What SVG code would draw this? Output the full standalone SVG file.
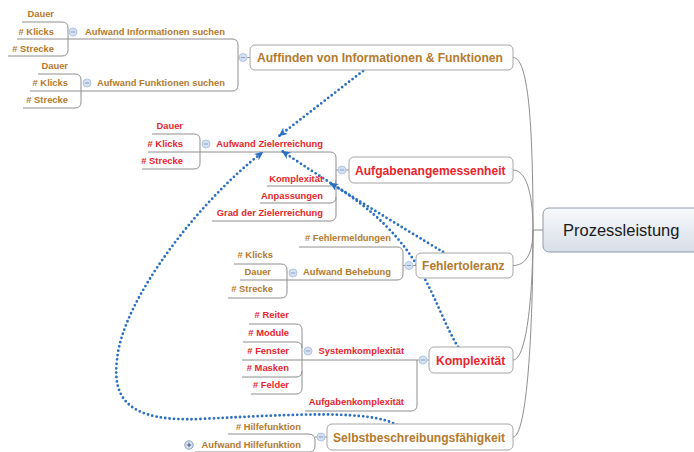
<svg xmlns="http://www.w3.org/2000/svg" width="694" height="452" viewBox="0 0 694 452">
  <defs>
    <linearGradient id="rootFill" x1="0" y1="0" x2="0" y2="1">
      <stop offset="0" stop-color="#f8f9fb"/>
      <stop offset="1" stop-color="#d8dee8"/>
    </linearGradient>
    <marker id="spear" viewBox="0 0 9 8" refX="8.5" refY="4" markerWidth="9" markerHeight="8" markerUnits="userSpaceOnUse" orient="auto">
      <path d="M0,0 L9,4 L0,8 L2.6,4 z" fill="#2a6fc2"/>
    </marker>
    <g id="fold">
      <circle r="4" fill="#d5e1f2" stroke="#a7bddb" stroke-width="0.8"/>
      <path d="M-2.2,0 H2.2" stroke="#8aa2c6" stroke-width="1"/>
    </g>
  </defs>
  <style>
    .tree { fill: none; stroke: #8e8e8e; stroke-width: 1; }
    .rel { fill: none; stroke: #2a6fc2; stroke-width: 2.8; stroke-linecap: round; stroke-dasharray: 0 4.4; }
    .box { fill: #ffffff; stroke: #a6a6a6; stroke-width: 1; }
    text { font-family: "Liberation Sans", Arial, sans-serif; font-weight: bold; }
    .main { font-size: 12.1px; }
    .sub { font-size: 9.4px; text-anchor: end; }
    .brown { fill: #b47a2e; }
    .red { fill: #e8262d; }
  </style>

  <rect width="694" height="452" fill="#ffffff"/>

  <!-- tree branches and relationship arrows -->
  <g id="connectors">
    <!-- root to main topics -->
    <path class="tree" d="M543,230 H533"/>
    <path class="tree" d="M513,57.5 C528,57.5 533,120 533,230"/>
    <path class="tree" d="M513,170 C525,170 533,190 533,230"/>
    <path class="tree" d="M513,265.5 C525,265.5 533,255 533,230"/>
    <path class="tree" d="M513,360 C526,360 533,300 533,230"/>
    <path class="tree" d="M513,437 C527,437 533,330 533,230"/>

    <!-- Auffinden von Informationen & Funktionen -->
    <path class="tree" d="M68,39 H232 Q238,39 238,45 V85 Q238,91 232,91 H81"/>
    <path class="tree" d="M238,57.5 H250"/>
    <path class="tree" d="M22,22 H62 Q68,22 68,28 V50 Q68,56 62,56 H8"/>
    <path class="tree" d="M17,39 H68"/>
    <path class="tree" d="M38,74 H75 Q81,74 81,80 V102 Q81,108 75,108 H23"/>
    <path class="tree" d="M30,91 H81"/>

    <!-- Aufgabenangemessenheit -->
    <path class="tree" d="M200,152 H330 Q336,152 336,158 V215 Q336,221 330,221 H212"/>
    <path class="tree" d="M267,186 H330 Q336,186 336,180"/>
    <path class="tree" d="M260,203 H330 Q336,203 336,197"/>
    <path class="tree" d="M336,170 H349"/>
    <path class="tree" d="M152,134 H194 Q200,134 200,140 V163 Q200,169 194,169 H142"/>
    <path class="tree" d="M148,152 H200"/>

    <!-- Fehlertoleranz -->
    <path class="tree" d="M299,247 H397 Q403,247 403,253 V274 Q403,280 397,280 H287"/>
    <path class="tree" d="M403,265.5 H416"/>
    <path class="tree" d="M234,264 H281 Q287,264 287,270 V292 Q287,298 281,298 H228"/>
    <path class="tree" d="M240,280 H287"/>

    <!-- Komplexität -->
    <path class="tree" d="M302,360 H429"/>
    <path class="tree" d="M305,411 H411 Q417,411 417,405 V360"/>
    <path class="tree" d="M249,324 H296 Q302,324 302,330 V388 Q302,394 296,394 H251"/>
    <path class="tree" d="M243,342 H296 Q302,342 302,348"/>
    <path class="tree" d="M242,360 H302"/>
    <path class="tree" d="M242,377 H296 Q302,377 302,371"/>

    <!-- Selbstbeschreibungsfähigkeit -->
    <path class="tree" d="M228,434 H308 Q315,434 315,440 V446 Q315,452 309,452 H195"/>
    <path class="tree" d="M315,437 H327"/>

    <!-- relationships -->
    <path class="rel" d="M363,71 L279,136" marker-end="url(#spear)"/>
    <path class="rel" d="M443,252 C400,226 330,184 282,151" marker-end="url(#spear)"/>
    <path class="rel" d="M458,347 C430,300 425,240 330,183" marker-end="url(#spear)"/>
    <path class="rel" d="M397,425 C370,410 300,414 200,419 C130,422 112,400 117,360 C122,300 200,200 263,152" marker-end="url(#spear)"/>
  </g>

  <!-- central topic -->
  <g id="prozessleistung">
    <rect x="543" y="208" width="170" height="44" rx="6" fill="url(#rootFill)" stroke="#8e99ab" stroke-width="1"/>
    <text x="563" y="236" style="font-weight:normal;font-size:16.5px" fill="#1a1a1a">Prozessleistung</text>
  </g>

  <!-- main topics -->
  <g id="auffinden">
    <rect class="box" x="250" y="45" width="263" height="25" rx="5"/>
    <text class="main brown" x="257" y="62">Auffinden von Informationen &amp; Funktionen</text>
    <use href="#fold" x="243" y="57.5"/>
  </g>
  <g id="aufgabenangemessenheit">
    <rect class="box" x="349" y="157" width="164" height="26" rx="5"/>
    <text class="main red" x="355" y="174.5">Aufgabenangemessenheit</text>
    <use href="#fold" x="342" y="170"/>
  </g>
  <g id="fehlertoleranz">
    <rect class="box" x="416" y="253" width="97" height="25" rx="5"/>
    <text class="main brown" x="422" y="270">Fehlertoleranz</text>
    <use href="#fold" x="409" y="265.5"/>
  </g>
  <g id="komplexitaet">
    <rect class="box" x="429" y="347" width="84" height="26" rx="5"/>
    <text class="main red" x="436" y="364.5">Komplexität</text>
    <use href="#fold" x="423" y="360"/>
  </g>
  <g id="selbstbeschreibung">
    <rect class="box" x="327" y="424" width="186" height="26" rx="5"/>
    <text class="main brown" x="333" y="441.5">Selbstbeschreibungsfähigkeit</text>
    <use href="#fold" x="321" y="437"/>
  </g>

  <!-- Auffinden subtopics -->
  <g id="aufwand-info">
    <text class="sub brown" x="225" y="35">Aufwand Informationen suchen</text>
    <use href="#fold" x="73" y="32"/>
  </g>
  <g id="info-dauer"><text class="sub brown" x="54" y="17">Dauer</text></g>
  <g id="info-klicks"><text class="sub brown" x="54" y="35"># Klicks</text></g>
  <g id="info-strecke"><text class="sub brown" x="54" y="52"># Strecke</text></g>
  <g id="aufwand-funktionen">
    <text class="sub brown" x="225" y="86">Aufwand Funktionen suchen</text>
    <use href="#fold" x="87" y="83"/>
  </g>
  <g id="funk-dauer"><text class="sub brown" x="68" y="69">Dauer</text></g>
  <g id="funk-klicks"><text class="sub brown" x="68" y="86"># Klicks</text></g>
  <g id="funk-strecke"><text class="sub brown" x="68" y="103"># Strecke</text></g>

  <!-- Aufgabenangemessenheit subtopics -->
  <g id="aufwand-ziel">
    <text class="sub red" x="323" y="147">Aufwand Zielerreichung</text>
    <use href="#fold" x="206" y="144"/>
  </g>
  <g id="ziel-dauer"><text class="sub red" x="183" y="129">Dauer</text></g>
  <g id="ziel-klicks"><text class="sub red" x="183" y="147"># Klicks</text></g>
  <g id="ziel-strecke"><text class="sub red" x="183" y="164"># Strecke</text></g>
  <g id="aufg-komplexitaet"><text class="sub red" x="323" y="182">Komplexität</text></g>
  <g id="aufg-anpassungen"><text class="sub red" x="323" y="199">Anpassungen</text></g>
  <g id="aufg-grad"><text class="sub red" x="323" y="216">Grad der Zielerreichung</text></g>

  <!-- Fehlertoleranz subtopics -->
  <g id="fehlermeldungen"><text class="sub brown" x="391" y="241"># Fehlermeldungen</text></g>
  <g id="aufwand-behebung">
    <text class="sub brown" x="391" y="275">Aufwand Behebung</text>
    <use href="#fold" x="293" y="273"/>
  </g>
  <g id="beh-klicks"><text class="sub brown" x="273" y="258"># Klicks</text></g>
  <g id="beh-dauer"><text class="sub brown" x="271" y="275">Dauer</text></g>
  <g id="beh-strecke"><text class="sub brown" x="273" y="292"># Strecke</text></g>

  <!-- Komplexität subtopics -->
  <g id="systemkomplexitaet">
    <text class="sub red" x="404" y="354">Systemkomplexität</text>
    <use href="#fold" x="308" y="351"/>
  </g>
  <g id="sys-reiter"><text class="sub red" x="289" y="318"># Reiter</text></g>
  <g id="sys-module"><text class="sub red" x="289" y="336"># Module</text></g>
  <g id="sys-fenster"><text class="sub red" x="289" y="354"># Fenster</text></g>
  <g id="sys-masken"><text class="sub red" x="289" y="371"># Masken</text></g>
  <g id="sys-felder"><text class="sub red" x="289" y="388"># Felder</text></g>
  <g id="aufgabenkomplexitaet"><text class="sub red" x="404" y="405">Aufgabenkomplexität</text></g>

  <!-- Selbstbeschreibungsfähigkeit subtopics -->
  <g id="hilfefunktion"><text class="sub brown" x="301" y="430"># Hilfefunktion</text></g>
  <g id="aufwand-hilfe">
    <text class="sub brown" x="301" y="448">Aufwand Hilfefunktion</text>
    <circle cx="189" cy="445" r="4.2" fill="#dbe4f2" stroke="#7d92b4" stroke-width="0.9"/>
    <path d="M186.8,445 H191.2 M189,442.8 V447.2" stroke="#45577a" stroke-width="1"/>
  </g>
</svg>
